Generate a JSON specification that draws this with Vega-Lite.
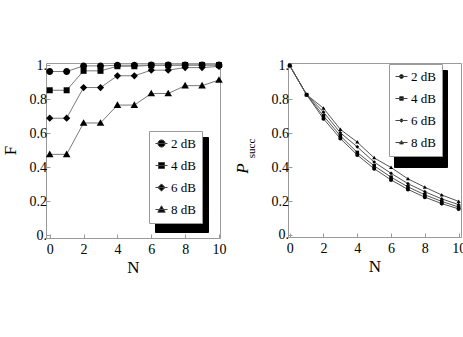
{
  "$schema": "https://vega.github.io/schema/vega-lite/v6.json",
  "padding": {"left": 0, "top": 57, "right": 0, "bottom": 0},
  "spacing": 5,
  "config": {
    "view": {"stroke": "#9a9a9a", "strokeWidth": 1},
    "font": "Liberation Serif",
    "axis": {
      "domain": false, "grid": false,
      "labelFont": "Liberation Serif", "labelFontSize": 14, "labelColor": "black",
      "tickColor": "#9a9a9a", "tickSize": -4, "labelFlush": false,
      "titleFont": "Liberation Serif", "titleFontSize": 17, "titleFontWeight": "normal", "titleColor": "black", "titlePadding": 3
    },
    "axisX": {"labelPadding": 8},
    "axisY": {"labelPadding": 3.5}
  },
  "resolve": {
    "scale": {"color": "independent", "shape": "independent"},
    "legend": {"color": "independent", "shape": "independent"}
  },
  "datasets": {
    "fid": [
      {"series": "2 dB", "N": 0, "F": 0.962}, {"series": "2 dB", "N": 1, "F": 0.962}, {"series": "2 dB", "N": 2, "F": 0.995}, {"series": "2 dB", "N": 3, "F": 0.995}, {"series": "2 dB", "N": 4, "F": 0.999}, {"series": "2 dB", "N": 5, "F": 0.999}, {"series": "2 dB", "N": 6, "F": 1.0}, {"series": "2 dB", "N": 7, "F": 1.0}, {"series": "2 dB", "N": 8, "F": 1.0}, {"series": "2 dB", "N": 9, "F": 1.0}, {"series": "2 dB", "N": 10, "F": 1.0},
      {"series": "4 dB", "N": 0, "F": 0.852}, {"series": "4 dB", "N": 1, "F": 0.852}, {"series": "4 dB", "N": 2, "F": 0.966}, {"series": "4 dB", "N": 3, "F": 0.966}, {"series": "4 dB", "N": 4, "F": 0.993}, {"series": "4 dB", "N": 5, "F": 0.993}, {"series": "4 dB", "N": 6, "F": 0.998}, {"series": "4 dB", "N": 7, "F": 0.998}, {"series": "4 dB", "N": 8, "F": 1.0}, {"series": "4 dB", "N": 9, "F": 1.0}, {"series": "4 dB", "N": 10, "F": 1.0},
      {"series": "6 dB", "N": 0, "F": 0.688}, {"series": "6 dB", "N": 1, "F": 0.688}, {"series": "6 dB", "N": 2, "F": 0.868}, {"series": "6 dB", "N": 3, "F": 0.868}, {"series": "6 dB", "N": 4, "F": 0.937}, {"series": "6 dB", "N": 5, "F": 0.937}, {"series": "6 dB", "N": 6, "F": 0.97}, {"series": "6 dB", "N": 7, "F": 0.97}, {"series": "6 dB", "N": 8, "F": 0.985}, {"series": "6 dB", "N": 9, "F": 0.985}, {"series": "6 dB", "N": 10, "F": 0.992},
      {"series": "8 dB", "N": 0, "F": 0.476}, {"series": "8 dB", "N": 1, "F": 0.476}, {"series": "8 dB", "N": 2, "F": 0.66}, {"series": "8 dB", "N": 3, "F": 0.66}, {"series": "8 dB", "N": 4, "F": 0.765}, {"series": "8 dB", "N": 5, "F": 0.765}, {"series": "8 dB", "N": 6, "F": 0.833}, {"series": "8 dB", "N": 7, "F": 0.833}, {"series": "8 dB", "N": 8, "F": 0.879}, {"series": "8 dB", "N": 9, "F": 0.879}, {"series": "8 dB", "N": 10, "F": 0.912}
    ],
    "psucc": [
      {"series": "2 dB", "N": 0, "P": 1.0}, {"series": "2 dB", "N": 1, "P": 0.828}, {"series": "2 dB", "N": 2, "P": 0.686}, {"series": "2 dB", "N": 3, "P": 0.569}, {"series": "2 dB", "N": 4, "P": 0.472}, {"series": "2 dB", "N": 5, "P": 0.391}, {"series": "2 dB", "N": 6, "P": 0.325}, {"series": "2 dB", "N": 7, "P": 0.269}, {"series": "2 dB", "N": 8, "P": 0.223}, {"series": "2 dB", "N": 9, "P": 0.185}, {"series": "2 dB", "N": 10, "P": 0.154},
      {"series": "4 dB", "N": 0, "P": 1.0}, {"series": "4 dB", "N": 1, "P": 0.828}, {"series": "4 dB", "N": 2, "P": 0.703}, {"series": "4 dB", "N": 3, "P": 0.585}, {"series": "4 dB", "N": 4, "P": 0.487}, {"series": "4 dB", "N": 5, "P": 0.408}, {"series": "4 dB", "N": 6, "P": 0.341}, {"series": "4 dB", "N": 7, "P": 0.284}, {"series": "4 dB", "N": 8, "P": 0.237}, {"series": "4 dB", "N": 9, "P": 0.198}, {"series": "4 dB", "N": 10, "P": 0.165},
      {"series": "6 dB", "N": 0, "P": 1.0}, {"series": "6 dB", "N": 1, "P": 0.828}, {"series": "6 dB", "N": 2, "P": 0.725}, {"series": "6 dB", "N": 3, "P": 0.603}, {"series": "6 dB", "N": 4, "P": 0.52}, {"series": "6 dB", "N": 5, "P": 0.43}, {"series": "6 dB", "N": 6, "P": 0.364}, {"series": "6 dB", "N": 7, "P": 0.303}, {"series": "6 dB", "N": 8, "P": 0.255}, {"series": "6 dB", "N": 9, "P": 0.213}, {"series": "6 dB", "N": 10, "P": 0.179},
      {"series": "8 dB", "N": 0, "P": 1.0}, {"series": "8 dB", "N": 1, "P": 0.828}, {"series": "8 dB", "N": 2, "P": 0.748}, {"series": "8 dB", "N": 3, "P": 0.623}, {"series": "8 dB", "N": 4, "P": 0.548}, {"series": "8 dB", "N": 5, "P": 0.455}, {"series": "8 dB", "N": 6, "P": 0.398}, {"series": "8 dB", "N": 7, "P": 0.331}, {"series": "8 dB", "N": 8, "P": 0.282}, {"series": "8 dB", "N": 9, "P": 0.236}, {"series": "8 dB", "N": 10, "P": 0.198}
    ]
  },
  "hconcat": [
    {
      "width": 174, "height": 175,
      "data": {"name": "fid"},
      "layer": [
        {
          "mark": {"type": "line", "color": "#7a7a7a", "strokeWidth": 1},
          "encoding": {
            "x": {"field": "N", "type": "quantitative", "scale": {"domain": [-0.22, 10.06], "nice": false, "zero": false}, "axis": {"values": [0, 2, 4, 6, 8, 10], "title": "N"}},
            "y": {"field": "F", "type": "quantitative", "scale": {"domain": [-0.015, 1.012], "nice": false, "zero": false}, "axis": {"values": [0, 0.2, 0.4, 0.6, 0.8, 1], "labelExpr": "datum.value == 0 ? '0.' : datum.value == 1 ? '1.' : format(datum.value, '.1f')", "title": "F", "titleX": -31, "titleY": 87, "titleBaseline": "alphabetic"}},
            "detail": {"field": "series", "type": "nominal"}
          }
        },
        {
          "mark": {"type": "point", "filled": true, "opacity": 1, "size": 64, "strokeWidth": 0},
          "encoding": {
            "x": {"field": "N", "type": "quantitative", "scale": {"domain": [-0.22, 10.06], "nice": false, "zero": false}, "axis": {"values": [0, 2, 4, 6, 8, 10], "title": "N"}},
            "y": {"field": "F", "type": "quantitative", "scale": {"domain": [-0.015, 1.012], "nice": false, "zero": false}, "axis": {"values": [0, 0.2, 0.4, 0.6, 0.8, 1], "labelExpr": "datum.value == 0 ? '0.' : datum.value == 1 ? '1.' : format(datum.value, '.1f')", "title": "F", "titleX": -31, "titleY": 87, "titleBaseline": "alphabetic"}},
            "shape": {
              "field": "series", "type": "nominal",
              "scale": {"range": ["M-0.875,0A0.875,0.875,0,1,0,0.875,0A0.875,0.875,0,1,0,-0.875,0Z", "M-0.75,-0.75H0.75V0.75H-0.75Z", "M0,-0.9L0.9,0L0,0.9L-0.9,0Z", "M0,-0.95L0.95,0.7H-0.95Z"]},
              "legend": {
                "title": null, "orient": "none", "legendX": 109, "legendY": 74, "zindex": 1,
                "fillColor": "black", "strokeColor": "black", "padding": 6, "rowPadding": 8,
                "symbolSize": 144, "symbolFillColor": "black", "symbolStrokeColor": "black", "symbolStrokeWidth": 1,
                "labelFont": "Liberation Serif", "labelFontSize": 13, "labelColor": "black", "labelOffset": 3,
                "labelExpr": "datum.label + '\u00a0\u00a0\u00a0\u00a0'"
              }
            },
            "color": {
              "field": "series", "type": "nominal",
              "scale": {"domain": ["2 dB", "4 dB", "6 dB", "8 dB"], "range": ["black", "black", "black", "black"]},
              "legend": {
                "title": null, "orient": "none", "legendX": 103, "legendY": 68, "zindex": 2,
                "fillColor": "white", "strokeColor": "#9a9a9a", "padding": 6, "rowPadding": 8,
                "symbolSize": 144, "symbolStrokeColor": "#444", "symbolStrokeWidth": 1,
                "symbolType": {"expr": "datum.value == '2 dB' ? 'M-1,0H1M-0.6,0A0.6,0.6,0,1,0,0.6,0A0.6,0.6,0,1,0,-0.6,0Z' : datum.value == '4 dB' ? 'M-1,0H1M-0.5,-0.5H0.5V0.5H-0.5Z' : datum.value == '6 dB' ? 'M-1,0H1M0,-0.6L0.6,0L0,0.6L-0.6,0Z' : 'M-1,0H1M0,-0.62L0.62,0.45H-0.62Z'"},
                "labelFont": "Liberation Serif", "labelFontSize": 13, "labelColor": "black", "labelOffset": 3,
                "labelExpr": "datum.label + '\u00a0\u00a0\u00a0\u00a0'",
                "encode": {"symbols": {"stroke": {"value": "#444"}, "strokeWidth": {"value": 1}}}
              }
            }
          }
        }
      ]
    },
    {
      "width": 173, "height": 174,
      "data": {"name": "psucc"},
      "resolve": {"axis": {"y": "independent"}},
      "layer": [
        {
          "mark": {"type": "line", "color": "#555555", "strokeWidth": 1},
          "encoding": {
            "x": {"field": "N", "type": "quantitative", "scale": {"domain": [-0.1, 10.14], "nice": false, "zero": false}, "axis": {"values": [0, 2, 4, 6, 8, 10], "title": "N"}},
            "y": {"field": "P", "type": "quantitative", "scale": {"domain": [-0.012, 1.015], "nice": false, "zero": false}, "axis": {"orient": "left", "labels": false, "ticks": false, "title": "succ", "titleFontSize": 11, "titleX": -34, "titleY": 85, "titleBaseline": "alphabetic"}},
            "detail": {"field": "series", "type": "nominal"}
          }
        },
        {
          "mark": {"type": "point", "filled": true, "opacity": 1, "size": 18, "strokeWidth": 0},
          "encoding": {
            "x": {"field": "N", "type": "quantitative", "scale": {"domain": [-0.1, 10.14], "nice": false, "zero": false}, "axis": {"values": [0, 2, 4, 6, 8, 10], "title": "N"}},
            "y": {"field": "P", "type": "quantitative", "scale": {"domain": [-0.012, 1.015], "nice": false, "zero": false}, "axis": {"orient": "left", "values": [0, 0.2, 0.4, 0.6, 0.8, 1], "labelExpr": "datum.value == 0 ? '0.' : datum.value == 1 ? '1.' : format(datum.value, '.1f')", "title": "P", "titleFontStyle": "italic", "titleX": -41, "titleY": 105, "titleBaseline": "alphabetic"}},
            "shape": {
              "field": "series", "type": "nominal",
              "scale": {"range": ["M-0.95,0A0.95,0.95,0,1,0,0.95,0A0.95,0.95,0,1,0,-0.95,0Z", "M-0.85,-0.85H0.85V0.85H-0.85Z", "M0,-0.9L0.9,0L0,0.9L-0.9,0Z", "M0,-0.95L0.95,0.7H-0.95Z"]},
              "legend": {
                "title": null, "orient": "none", "legendX": 106, "legendY": 7, "zindex": 1,
                "fillColor": "black", "strokeColor": "black", "padding": 6, "rowPadding": 8,
                "symbolSize": 144, "symbolFillColor": "black", "symbolStrokeColor": "black", "symbolStrokeWidth": 1,
                "labelFont": "Liberation Serif", "labelFontSize": 13, "labelColor": "black", "labelOffset": 3,
                "labelExpr": "datum.label + '\u00a0\u00a0\u00a0\u00a0'"
              }
            },
            "color": {
              "field": "series", "type": "nominal",
              "scale": {"domain": ["2 dB", "4 dB", "6 dB", "8 dB"], "range": ["black", "black", "black", "black"]},
              "legend": {
                "title": null, "orient": "none", "legendX": 101, "legendY": 1, "zindex": 2,
                "fillColor": "white", "strokeColor": "#9a9a9a", "padding": 6, "rowPadding": 8,
                "symbolSize": 144, "symbolStrokeColor": "#444", "symbolStrokeWidth": 1,
                "symbolType": {"expr": "datum.value == '2 dB' ? 'M-1,0H1M-0.33,0A0.33,0.33,0,1,0,0.33,0A0.33,0.33,0,1,0,-0.33,0Z' : datum.value == '4 dB' ? 'M-1,0H1M-0.3,-0.3H0.3V0.3H-0.3Z' : datum.value == '6 dB' ? 'M-1,0H1M0,-0.3L0.3,0L0,0.3L-0.3,0Z' : 'M-1,0H1M0,-0.32L0.32,0.24H-0.32Z'"},
                "labelFont": "Liberation Serif", "labelFontSize": 13, "labelColor": "black", "labelOffset": 3,
                "labelExpr": "datum.label + '\u00a0\u00a0\u00a0\u00a0'",
                "encode": {"symbols": {"stroke": {"value": "#444"}, "strokeWidth": {"value": 1}}}
              }
            }
          }
        }
      ]
    }
  ]
}
